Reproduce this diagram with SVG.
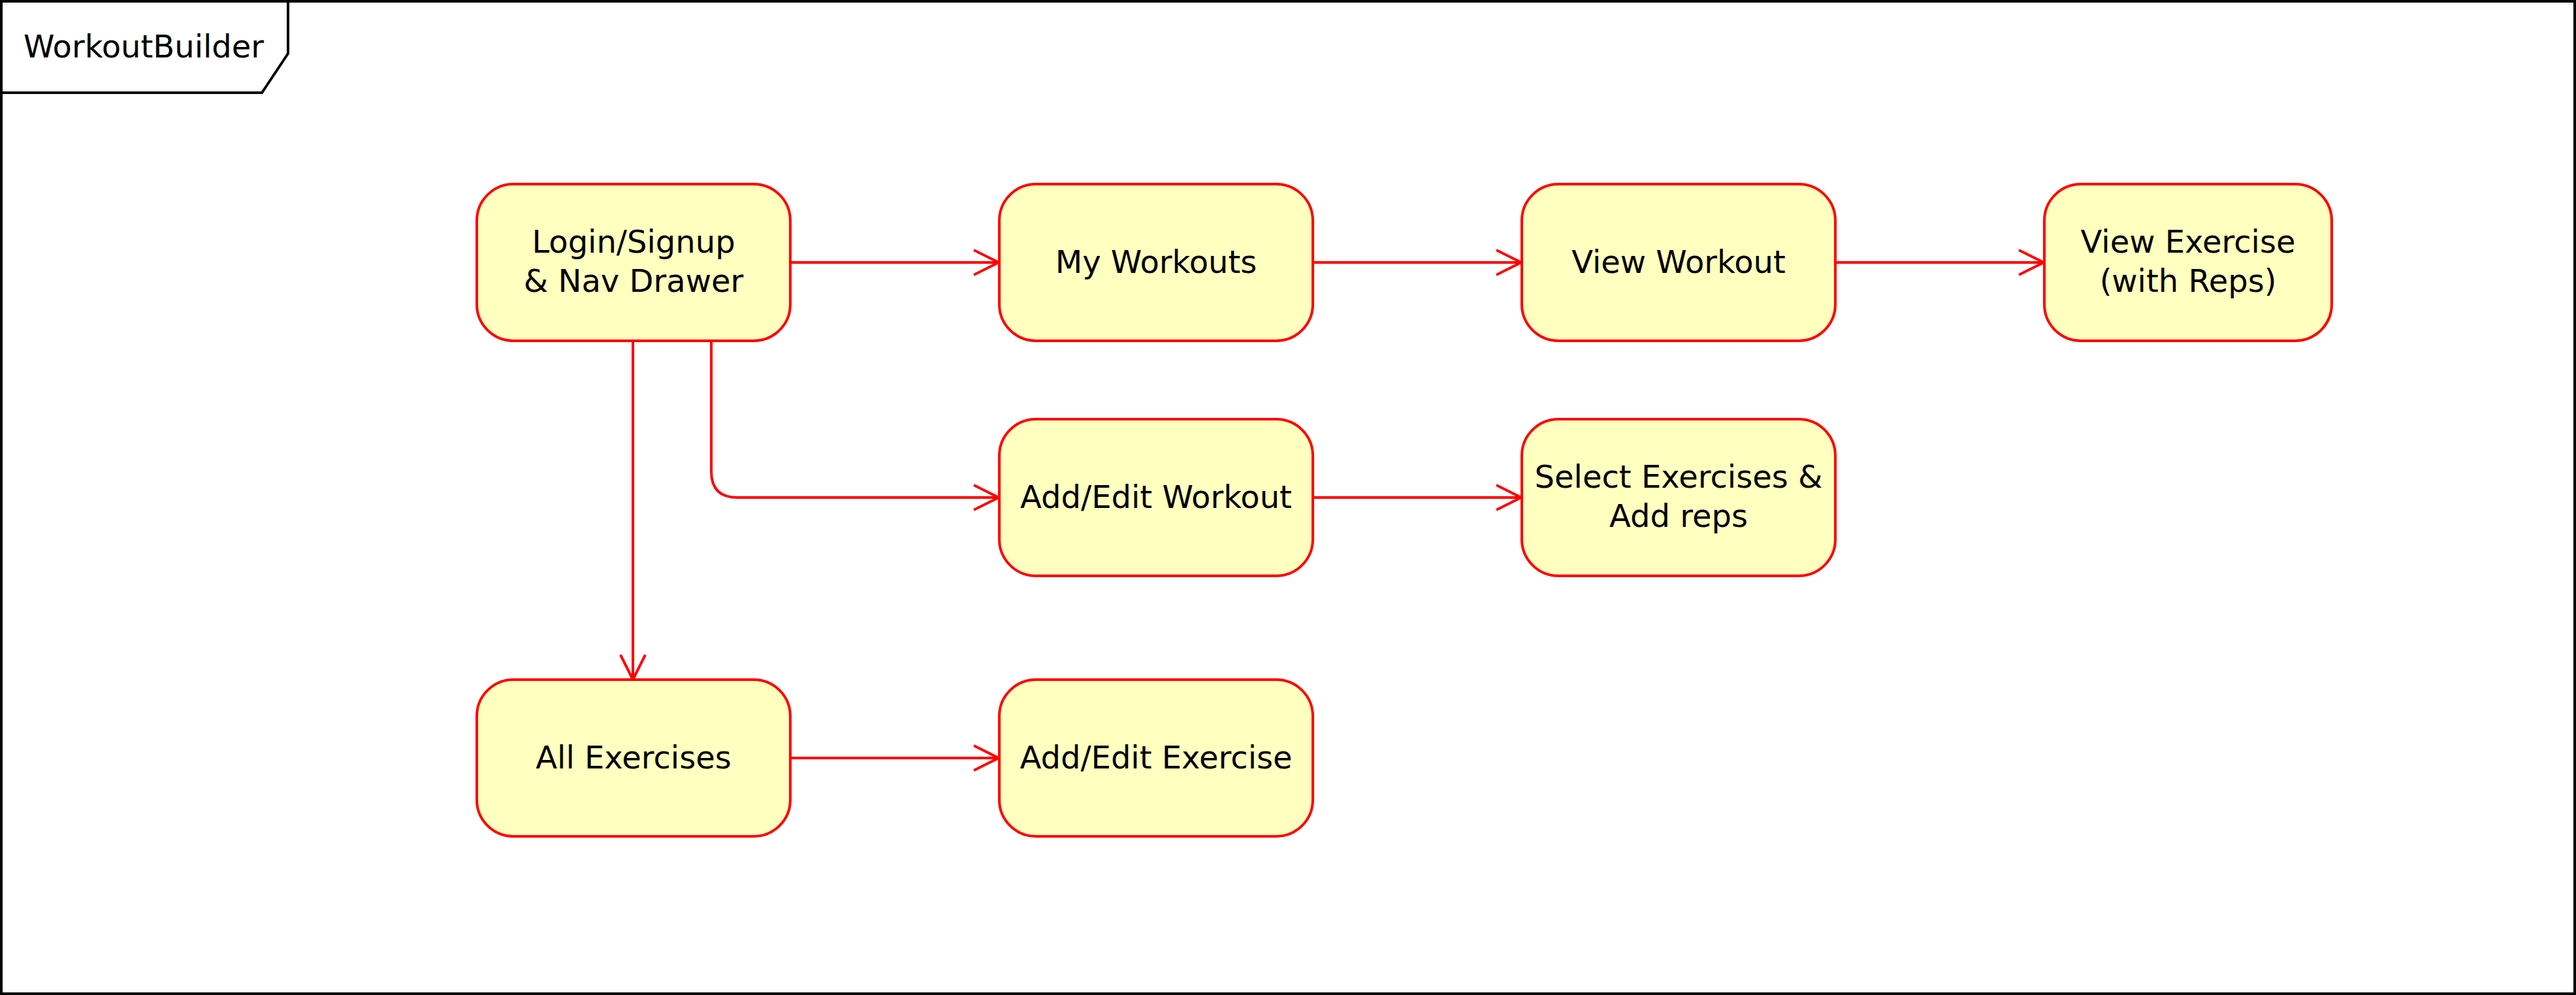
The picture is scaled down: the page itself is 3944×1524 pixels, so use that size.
<svg xmlns="http://www.w3.org/2000/svg" width="3944" height="1524" viewBox="0 0 3944 1524">
<style>
.node rect{fill:#FFFFC0;stroke:#FF0000;stroke-width:4}
.node text,.frame text{font-family:"DejaVu Sans","Verdana",sans-serif;font-size:48px;fill:#000;text-anchor:middle}
.edge{fill:none;stroke:#FF0000;stroke-width:4;marker-end:url(#open)}
</style>
<defs>
<marker id="open" markerUnits="userSpaceOnUse" markerWidth="50" markerHeight="50" viewBox="-4 -4 50 50" refX="38" refY="19" orient="auto">
<path d="M0,0 L38,19 L0,38" fill="none" stroke="#FF0000" stroke-width="4"/>
</marker>
</defs>
<rect width="3944" height="1524" fill="#FFFFFF"/>
<g id="frame" class="frame">
<rect x="2" y="2" width="3940" height="1520" fill="none" stroke="#000" stroke-width="4"/>
<path d="M2,2 L441,2 L441,82 L401,142 L2,142 Z" fill="#FFFFFF" stroke="#000" stroke-width="4"/>
<text x="220" y="88">WorkoutBuilder</text>
</g>
<g id="connectors">
<path class="edge" d="M1210,402 L1529,402"/>
<path class="edge" d="M2010,402 L2329,402"/>
<path class="edge" d="M2810,402 L3129,402"/>
<path class="edge" d="M1089,522 L1089,722 Q1089,762 1129,762 L1529,762"/>
<path class="edge" d="M969,522 L969,1041"/>
<path class="edge" d="M2010,762 L2329,762"/>
<path class="edge" d="M1210,1161 L1529,1161"/>
</g>
<g id="login" class="node">
<rect x="730" y="282" width="480" height="240" rx="56" ry="56"/>
<text x="970" y="387">Login/Signup</text>
<text x="970" y="447">&amp; Nav Drawer</text>
</g>
<g id="myworkouts" class="node">
<rect x="1530" y="282" width="480" height="240" rx="56" ry="56"/>
<text x="1770" y="418">My Workouts</text>
</g>
<g id="viewworkout" class="node">
<rect x="2330" y="282" width="480" height="240" rx="56" ry="56"/>
<text x="2570" y="418">View Workout</text>
</g>
<g id="viewexercise" class="node">
<rect x="3130" y="282" width="440" height="240" rx="56" ry="56"/>
<text x="3350" y="387">View Exercise</text>
<text x="3350" y="447">(with Reps)</text>
</g>
<g id="addeditworkout" class="node">
<rect x="1530" y="642" width="480" height="240" rx="56" ry="56"/>
<text x="1770" y="778">Add/Edit Workout</text>
</g>
<g id="selectexercises" class="node">
<rect x="2330" y="642" width="480" height="240" rx="56" ry="56"/>
<text x="2570" y="747">Select Exercises &amp;</text>
<text x="2570" y="807">Add reps</text>
</g>
<g id="allexercises" class="node">
<rect x="730" y="1041" width="480" height="240" rx="56" ry="56"/>
<text x="970" y="1177">All Exercises</text>
</g>
<g id="addeditexercise" class="node">
<rect x="1530" y="1041" width="480" height="240" rx="56" ry="56"/>
<text x="1770" y="1177">Add/Edit Exercise</text>
</g>
</svg>
